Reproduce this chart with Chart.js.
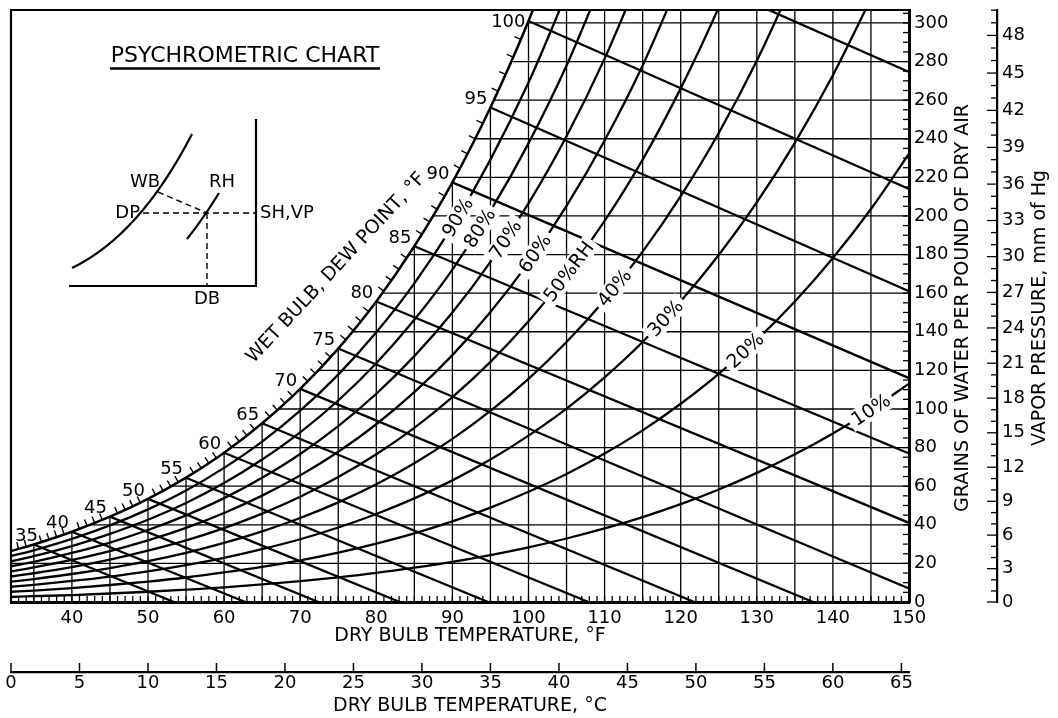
<!DOCTYPE html>
<html><head><meta charset="utf-8">
<script src="https://cdn.jsdelivr.net/npm/chart.js@4/dist/chart.umd.min.js"></script>
<style>html,body{margin:0;padding:0;background:#fff;}canvas{display:block;}</style>
</head><body>
<canvas id="c" width="1058" height="718"></canvas>
<script>
// ---------- data ----------
const dbTemps   = [32,35,40,45,50,55,60,65,70,75,80,85,90,95,100,105,110,115,120,125,130,135,140,145,150];
const satGrains = [26.4,29.8,36.4,44.2,53.4,64.4,77.3,92.6,110.4,131.3,155.7,184.3,217.4,256.2,301.0,353.0];
const rh90 = [23.8,26.8,32.7,39.7,48.0,57.8,69.5,83.1,99.1,117.8,139.7,165.1,194.7,229.2,269.1,315.2];
const rh80 = [21.1,23.8,29.0,35.3,42.6,51.3,61.6,73.8,87.9,104.4,123.7,146.2,172.2,202.6,237.6,277.9,324.7];
const rh70 = [18.5,20.8,25.4,30.8,37.3,44.9,53.8,64.4,76.7,91.1,107.9,127.4,150.0,176.2,206.5,241.3,281.5,327.8];
const rh60 = [15.8,17.9,21.8,26.4,31.9,38.4,46.1,55.1,65.6,77.8,92.1,108.7,127.9,150.2,175.8,205.2,239.1,278.0,323.2];
const rh50 = [13.2,14.9,18.1,22.0,26.6,31.9,38.3,45.8,54.5,64.7,76.5,90.2,106.1,124.4,145.5,169.6,197.4,229.2,266.1,308.1,356.2];
const rh40 = [10.5,11.9,14.5,17.6,21.2,25.5,30.6,36.6,43.5,51.6,61.0,71.9,84.5,99.0,115.6,134.7,156.5,181.5,210.3,243.0,280.4,323.0];
const rh30 = [7.9,8.9,10.9,13.2,15.9,19.1,22.9,27.4,32.5,38.6,45.6,53.7,63.0,73.8,86.2,100.2,116.4,134.7,155.8,179.8,207.0,237.9,272.9,312.6];
const rh20 = [5.3,5.9,7.2,8.8,10.6,12.7,15.3,18.2,21.6,25.6,30.3,35.6,41.8,48.9,57.1,66.3,76.9,88.9,102.7,118.2,135.8,155.7,178.2,203.6,232.3];
const rh10 = [2.6,3.0,3.6,4.4,5.3,6.4,7.6,9.1,10.8,12.8,15.1,17.8,20.8,24.3,28.3,32.9,38.1,44.0,50.7,58.3,66.9,76.5,87.3,99.5,113.1];
const rhLabels     = ['90%','80%','70%','60%','50%RH','40%','30%','20%','10%'];
const rhLabelTemps = [90.7,93.6,97.0,100.85,105.3,111.3,118,128.5,145];

const wbTemps       = [35,40,45,50,55,60,65,70,75,80,85,90,95,100,105];
const wbStartGrains = [29.8,36.4,44.2,53.4,64.4,77.3,92.6,110.4,131.3,155.7,184.3,217.4,256.2,301.0,353.0];
const wbEndTemps    = [53.4,62.8,72.4,83.1,94.7,107.9,121.8,137.4,150,150,150,150,150,150,150];
const wbEndGrains   = [0,0,0,0,0,0,0,0,7,41,77,116,161,214,274.6];

const gridVTemps     = [35,40,45,50,55,60,65,70,75,80,85,90,95,100,105,110,115,120,125,130,135,140,145];
const gridHGrains    = [20,40,60,80,100,120,140,160,180,200,220,240,260,280,300];
const gridHStartTemp = [32,42.3,53.0,60.9,67.1,72.3,76.8,80.75,84.25,87.4,90.3,92.9,95.4,97.65,99.9];

const fTickLabels     = [40,50,60,70,80,90,100,110,120,130,140,150];
const cTickLabels     = [0,5,10,15,20,25,30,35,40,45,50,55,60,65];
const grainTickLabels = [0,20,40,60,80,100,120,140,160,180,200,220,240,260,280,300];
const vpTickLabels    = [0,3,6,9,12,15,18,21,24,27,30,33,36,39,42,45,48];

// ---------- chart ----------
const FONT = "'DejaVu Sans', sans-serif";
const T_MIN = 32, T_MAX = 150, Y_MAX = 306.7;
function vpToGrains(mm){ return 4354 * mm / (760 - mm); }
function pts(temps, vals){ return vals.map((v,i)=>({x:temps[i], y:v})); }

const base = {borderColor:'#000', pointRadius:0, pointHoverRadius:0, fill:false, clip:0, xAxisID:'x', yAxisID:'y'};
const datasets = [];
datasets.push(Object.assign({label:'sat', data:pts(dbTemps, satGrains), borderWidth:2.5, cubicInterpolationMode:'monotone'}, base));
const rhSeries = [rh90, rh80, rh70, rh60, rh50, rh40, rh30, rh20, rh10];
rhSeries.forEach((s,k)=>datasets.push(Object.assign({label:rhLabels[k], data:pts(dbTemps, s), borderWidth:2.3, cubicInterpolationMode:'monotone'}, base)));
wbTemps.forEach((t,i)=>datasets.push(Object.assign({label:'wb'+t, data:[{x:t,y:wbStartGrains[i]},{x:wbEndTemps[i],y:wbEndGrains[i]}], borderWidth:2.3, tension:0}, base)));
gridVTemps.forEach(t=>{
  const idx = dbTemps.indexOf(t);
  const top = (idx >= 0 && idx < satGrains.length && satGrains[idx] < Y_MAX) ? satGrains[idx] : Y_MAX;
  datasets.push(Object.assign({label:'gv'+t, data:[{x:t,y:0},{x:t,y:top}], borderWidth:1.3, tension:0}, base));
});
gridHGrains.forEach((g,i)=>datasets.push(Object.assign({label:'gh'+g, data:[{x:gridHStartTemp[i],y:g},{x:T_MAX,y:g}], borderWidth:1.3, tension:0}, base)));

function curveAt(meta, X){
  const p = meta.data;
  for (let i=0;i<p.length-1;i++){
    const a=p[i], b=p[i+1];
    if (X>=a.x && X<=b.x){
      const t=(X-a.x)/(b.x-a.x), mt=1-t;
      const y0=a.y, y1=(a.cp2y!==undefined?a.cp2y:a.y+(b.y-a.y)/3), y2=(b.cp1y!==undefined?b.cp1y:a.y+2*(b.y-a.y)/3), y3=b.y;
      const y=mt*mt*mt*y0+3*mt*mt*t*y1+3*mt*t*t*y2+t*t*t*y3;
      const dy=3*mt*mt*(y1-y0)+6*mt*t*(y2-y1)+3*t*t*(y3-y2);
      return {x:X, y:y, dx:b.x-a.x, dy:dy};
    }
  }
  return null;
}

const decor = {
  id:'decor',
  afterDraw(chart){
    const ctx=chart.ctx, xs=chart.scales.x, ys=chart.scales.y, xc=chart.scales.xc, yv=chart.scales.yv, ca=chart.chartArea;
    const L=(x1,y1,x2,y2)=>{ctx.beginPath();ctx.moveTo(x1,y1);ctx.lineTo(x2,y2);ctx.stroke();};
    ctx.save();
    ctx.strokeStyle='#000'; ctx.fillStyle='#000'; ctx.lineCap='butt';
    // frame left & top
    ctx.lineWidth=2.2;
    ctx.beginPath(); ctx.moveTo(ca.left, ca.bottom); ctx.lineTo(ca.left, ca.top); ctx.lineTo(ca.right+1, ca.top); ctx.stroke();
    // minor ticks: bottom (1 F), right (5 grains)
    ctx.lineWidth=1.3;
    for (let t=T_MIN+1; t<T_MAX; t++){ const px=xs.getPixelForValue(t); L(px, ca.bottom, px, ca.bottom-6); }
    for (let g=5; g<Y_MAX; g+=5){ const py=ys.getPixelForValue(g); L(ca.right, py, ca.right-6, py); }
    // vapor pressure ticks (leftward)
    for (let m=0; vpToGrains(m)<=Y_MAX; m++){ const py=ys.getPixelForValue(vpToGrains(m)); L(yv.left, py, yv.left-(m%3===0?10:6), py); }
    // celsius ticks (upward)
    ctx.lineWidth=1.5;
    cTickLabels.forEach(c=>{ const px=xc.getPixelForValue(c); L(px, xc.top, px, xc.top-9); });
    // ticks along saturation curve (every 1 F)
    const satMeta=chart.getDatasetMeta(0);
    ctx.lineWidth=1.4;
    for (let t=33; t<=100; t++){
      if (t%5===0) continue;
      const r=curveAt(satMeta, xs.getPixelForValue(t)); if(!r) continue;
      const len=Math.hypot(r.dx,r.dy), nx=r.dy/len, ny=-r.dx/len;
      L(r.x, r.y, r.x+nx*7, r.y+ny*7);
    }
    // wet bulb / dew point numbers
    ctx.font="18px "+FONT; ctx.textAlign='right'; ctx.textBaseline='middle';
    wbTemps.forEach((t,i)=>{
      if (wbStartGrains[i] > Y_MAX) return;
      const s=String(t), w=ctx.measureText(s).width;
      const px=Math.max(xs.getPixelForValue(t)-3, ca.left+w+4);
      const py=Math.max(ys.getPixelForValue(wbStartGrains[i])-8, ca.top+12);
      ctx.fillText(s, px, py);
    });
    // RH labels on curves
    ctx.font="19px "+FONT; ctx.textAlign='center';
    rhLabels.forEach((lab,k)=>{
      const r=curveAt(chart.getDatasetMeta(1+k), xs.getPixelForValue(rhLabelTemps[k])); if(!r) return;
      const ang=Math.atan2(r.dy, r.dx);
      ctx.save(); ctx.translate(r.x, r.y); ctx.rotate(ang);
      const w=ctx.measureText(lab).width;
      ctx.fillStyle='#fff'; ctx.fillRect(-w/2-4, -10, w+8, 20);
      ctx.fillStyle='#000'; ctx.fillText(lab, 0, 1);
      ctx.restore();
    });
    // axis titles
    ctx.font="19px "+FONT; ctx.textAlign='center'; ctx.textBaseline='middle';
    ctx.fillText('DRY BULB TEMPERATURE, °F', 470, 636);
    ctx.fillText('DRY BULB TEMPERATURE, °C', 470, 706);
    ctx.save(); ctx.translate(963, 308); ctx.rotate(-Math.PI/2); ctx.fillText('GRAINS OF WATER PER POUND OF DRY AIR', 0, 0); ctx.restore();
    ctx.save(); ctx.translate(1040, 308); ctx.rotate(-Math.PI/2); ctx.fillText('VAPOR PRESSURE, mm of Hg', 0, 0); ctx.restore();
    ctx.save(); ctx.translate(336, 268); ctx.rotate(-47*Math.PI/180); ctx.fillText('WET BULB, DEW POINT, °F', 0, 0); ctx.restore();
    // title
    ctx.font="22px "+FONT;
    ctx.fillText('PSYCHROMETRIC CHART', 245, 56);
    ctx.lineWidth=2.5; L(110, 68.5, 380, 68.5);
    // inset schematic
    ctx.lineWidth=2.2;
    L(256, 119, 256, 287); L(69, 286, 257, 286);
    ctx.beginPath(); ctx.moveTo(72,268); ctx.quadraticCurveTo(140,235,192,134); ctx.stroke();
    ctx.beginPath(); ctx.moveTo(187,239); ctx.quadraticCurveTo(203,219,219,193); ctx.stroke();
    ctx.lineWidth=1.4; ctx.setLineDash([6,4]);
    L(143,213,256,213); L(158,192,207,213); L(207,213,207,286);
    ctx.setLineDash([]);
    ctx.font="18px "+FONT;
    ctx.textAlign='center'; ctx.fillText('WB',145,182); ctx.fillText('RH',222,182); ctx.fillText('DB',207,299);
    ctx.textAlign='right'; ctx.fillText('DP',140,213);
    ctx.textAlign='left'; ctx.fillText('SH,VP',260,213);
    ctx.restore();
  }
};

const tickFont = {size:18, family:FONT};
new Chart(document.getElementById('c'), {
  type:'line',
  data:{datasets:datasets},
  options:{
    responsive:false, animation:false, devicePixelRatio:1, events:[],
    layout:{padding:{left:11, top:10, right:0, bottom:0}},
    plugins:{legend:{display:false}, tooltip:{enabled:false}},
    elements:{point:{radius:0}},
    scales:{
      x:{type:'linear', axis:'x', position:'bottom', weight:0, min:T_MIN, max:T_MAX, bounds:'data',
         afterBuildTicks:s=>{s.ticks=fTickLabels.map(v=>({value:v}));},
         afterFit:s=>{s.height=70;},
         ticks:{font:tickFont, color:'#000', padding:6, maxRotation:0, minRotation:0, autoSkip:false, callback:v=>String(v)},
         grid:{drawOnChartArea:false, drawTicks:false}, border:{display:true, color:'#000', width:3}},
      xc:{type:'linear', axis:'x', position:'bottom', weight:1, min:0, max:(T_MAX-32)/1.8, bounds:'data',
         afterBuildTicks:s=>{s.ticks=cTickLabels.map(v=>({value:v}));},
         afterFit:s=>{s.height=46;},
         ticks:{font:tickFont, color:'#000', padding:1, maxRotation:0, minRotation:0, autoSkip:false, callback:v=>String(v)},
         grid:{drawOnChartArea:false, drawTicks:false}, border:{display:true, color:'#000', width:2.2}},
      y:{type:'linear', axis:'y', position:'right', weight:0, min:0, max:Y_MAX, bounds:'data',
         afterBuildTicks:s=>{s.ticks=grainTickLabels.map(v=>({value:v}));},
         afterFit:s=>{s.width=88;},
         ticks:{font:{size:18, family:FONT, lineHeight:0.5}, color:'#000', padding:5, autoSkip:false, callback:v=>String(v)},
         grid:{drawOnChartArea:false, drawTicks:false}, border:{display:true, color:'#000', width:3}},
      yv:{type:'linear', axis:'y', position:'right', weight:1, min:0, max:Y_MAX, bounds:'data',
         afterBuildTicks:s=>{s.ticks=vpTickLabels.map(v=>({value:vpToGrains(v)}));},
         afterFit:s=>{s.width=61;},
         ticks:{font:{size:18, family:FONT, lineHeight:0.5}, color:'#000', padding:5, autoSkip:false, callback:(v,i)=>String(vpTickLabels[i])},
         grid:{drawOnChartArea:false, drawTicks:false}, border:{display:true, color:'#000', width:2.2}}
    }
  },
  plugins:[decor]
});
</script>
</body></html>
